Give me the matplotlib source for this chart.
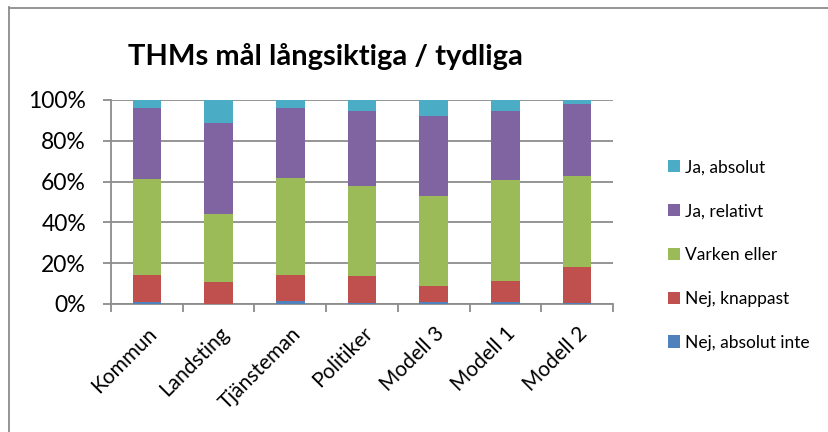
import matplotlib
matplotlib.use("Agg")
import matplotlib.pyplot as plt
import numpy as np
from matplotlib.lines import Line2D

plt.rcParams['font.family'] = ['Lato', 'DejaVu Sans']

# Kategorier och andelar (%) per svarsalternativ
categories = ['Kommun', 'Landsting', 'Tjänsteman', 'Politiker', 'Modell 3', 'Modell 1', 'Modell 2']
nej_absolut_inte = [1.0, 0.0, 1.3, 0.5, 1.1, 1.1, 0.3]
nej_knappast = [13.4, 10.6, 13.1, 13.2, 7.9, 10.2, 17.8]
varken_eller = [46.7, 33.5, 47.4, 44.3, 43.8, 49.3, 44.5]
ja_relativt = [35.1, 44.5, 34.3, 36.8, 39.2, 34.2, 35.4]
ja_absolut = [3.8, 11.4, 3.9, 5.2, 8.0, 5.2, 2.0]

series = [
    ('Nej, absolut inte', nej_absolut_inte, '#4F81BD'),
    ('Nej, knappast', nej_knappast, '#C0504D'),
    ('Varken eller', varken_eller, '#9BBB59'),
    ('Ja, relativt', ja_relativt, '#8064A2'),
    ('Ja, absolut', ja_absolut, '#4BACC6'),
]

W, H = 829, 432
fig = plt.figure(figsize=(W / 100, H / 100), dpi=100)
ax = fig.add_axes([111 / W, (H - 304) / H, 502 / W, 204 / H])

x = np.arange(len(categories))
bottom = np.zeros(len(categories))
for name, vals, col in series:
    vals = np.array(vals)
    ax.bar(x, vals, 0.4, bottom=bottom, color=col, label=name, zorder=3)
    bottom += vals

grid_col = '#8c8c8c'
ax.set_xlim(-0.5, len(categories) - 0.5)
ax.set_ylim(0, 100)
ax.set_yticks([0, 20, 40, 60, 80, 100])
ax.set_yticklabels([f'{v}%' for v in [0, 20, 40, 60, 80, 100]], fontsize=16.5)
ax.yaxis.grid(True, color=grid_col, linewidth=1.3, zorder=0)
ax.set_xticks(np.arange(len(categories) + 1) - 0.5)
ax.set_xticklabels([])
ax.set_xticks(x, minor=True)
ax.set_xticklabels(categories, minor=True, rotation=45, ha='right', va='top',
                   rotation_mode='anchor', fontsize=15)
ax.tick_params(axis='x', which='minor', length=0, pad=14)
ax.tick_params(axis='x', which='major', length=6, width=1.3, color=grid_col)
ax.tick_params(axis='y', length=6, width=1.3, color=grid_col, pad=12)
for s in ['top', 'right']:
    ax.spines[s].set_visible(False)
for s in ['left', 'bottom']:
    ax.spines[s].set_color(grid_col)
    ax.spines[s].set_linewidth(1.3)

fig.text(325 / W, 1 - 56 / H, 'THMs mål långsiktiga / tydliga', fontsize=21,
         fontweight='bold', ha='center', va='center')

# Legend i omvänd ordning
handles, labels = ax.get_legend_handles_labels()
leg = fig.legend(handles[::-1], labels[::-1], loc='center left',
                 bbox_to_anchor=(652 / W, 1 - 255 / H), frameon=False,
                 fontsize=12.5, handlelength=0.7, handleheight=0.7,
                 handletextpad=0.3, labelspacing=1.6)

# Ram runt diagrammet
fig.add_artist(Line2D([9.5 / W, 9.5 / W], [0, 1 - 7 / H], color='#8c8c8c', linewidth=1.3))
fig.add_artist(Line2D([9.5 / W, 1], [1 - 7.5 / H, 1 - 7.5 / H], color='#8c8c8c', linewidth=1.3))

fig.savefig('out.png', dpi=100)
